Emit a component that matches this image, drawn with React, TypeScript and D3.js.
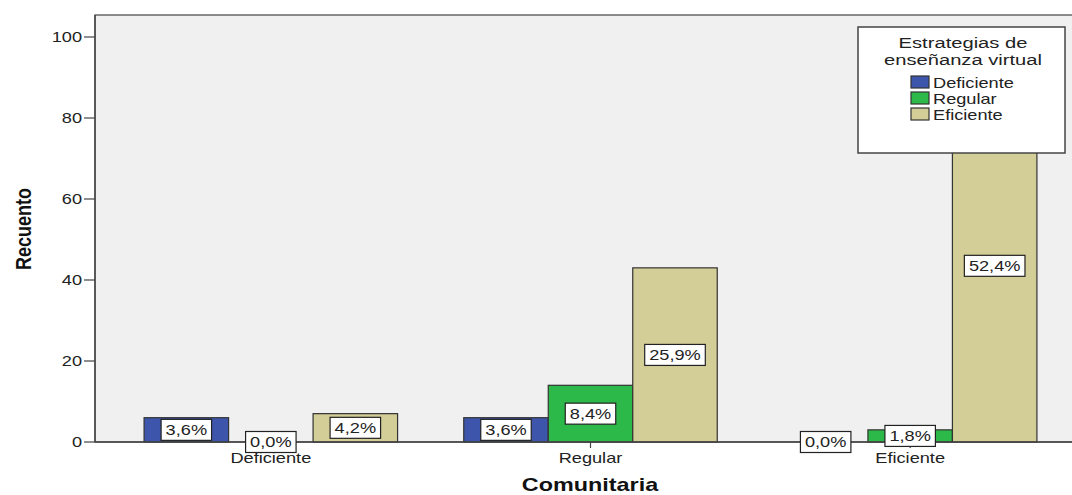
import React from "react";
import * as d3 from "d3";

const categories = ["Deficiente", "Regular", "Eficiente"];
const seriesNames = ["Deficiente", "Regular", "Eficiente"];
const deficienteCounts = [6, 6, 0];
const regularCounts = [0, 14, 3];
const eficienteCounts = [7, 43, 87];
const yTicks = [0, 20, 40, 60, 80, 100];
const colors = ["#3d56ac", "#2db84a", "#d3cd97"];

const W = 1072;
const H = 495;
const FONT = "'Liberation Sans', Arial, sans-serif";
const SX = 1.3;

const charW: Record<string, number> = { ",": 0.278, "%": 0.889, ".": 0.278 };
function textWidth(s: string, size: number) {
  let w = 0;
  for (const c of s) w += charW[c] ?? 0.556;
  return w * size * SX;
}

function SText({ x, y, size, children, anchor = "middle", weight = "normal", fill = "#222", sx = SX }: any) {
  return (
    <text
      transform={`translate(${x},${y}) scale(${sx},1)`}
      textAnchor={anchor}
      fontFamily={FONT}
      fontSize={size}
      fontWeight={weight}
      fill={fill}
    >
      {children}
    </text>
  );
}

export default function App() {
  const seriesData = [deficienteCounts, regularCounts, eficienteCounts];
  const total = d3.sum(seriesData.flat());

  const x0 = d3.scaleBand<string>().domain(categories).range([111, 1070]).padding(0);
  const groupW = 253.5;
  const x1 = d3.scaleBand<string>().domain(seriesNames).range([0, groupW]).padding(0);
  const y = d3.scaleLinear().domain([0, 100]).range([442, 37]);

  const plotLeft = 95;
  const plotTop = 15;
  const plotBottom = y(0);

  const bars: any[] = [];
  categories.forEach((cat, ci) => {
    seriesNames.forEach((s, si) => {
      const v = seriesData[si][ci];
      const gx = (x0(cat) as number) + x0.bandwidth() / 2 - groupW / 2;
      const bx = gx + (x1(s) as number);
      bars.push({ cat, s, si, v, x: bx, w: x1.bandwidth(), pct: ((v / total) * 100).toFixed(1).replace(".", ",") + "%" });
    });
  });

  const legendX = 858, legendY = 27, legendW = 207, legendH = 126;

  return (
    <svg width={W} height={H} style={{ position: "absolute", left: 0, top: 0, background: "#fff" }}>
      <rect x={plotLeft} y={plotTop} width={W - plotLeft + 5} height={plotBottom - plotTop} fill="#f0f0f0" stroke="#444" strokeWidth={1.2} />
      {bars.map((b, i) =>
        b.v > 0 ? (
          <rect key={"b" + i} x={b.x} y={y(b.v)} width={b.w} height={plotBottom - y(b.v)} fill={colors[b.si]} stroke="#333" strokeWidth={1.2} />
        ) : null
      )}
      {/* axes */}
      <line x1={plotLeft} x2={W} y1={plotBottom} y2={plotBottom} stroke="#444" strokeWidth={1.4} />
      <line x1={plotLeft} x2={plotLeft} y1={plotTop} y2={plotBottom} stroke="#444" strokeWidth={1.4} />
      {yTicks.map((t) => (
        <g key={"t" + t}>
          <line x1={84} x2={plotLeft} y1={y(t)} y2={y(t)} stroke="#444" strokeWidth={1.2} />
          <SText x={82} y={y(t) + 5} size={14} anchor="end">{t}</SText>
        </g>
      ))}
      {categories.map((c) => {
        const cx = (x0(c) as number) + x0.bandwidth() / 2;
        return (
          <g key={"c" + c}>
            <line x1={cx} x2={cx} y1={plotBottom} y2={plotBottom + 6} stroke="#444" strokeWidth={1.2} />
            <SText x={cx} y={463} size={14}>{c}</SText>
          </g>
        );
      })}
      {/* value labels */}
      {bars.map((b, i) => {
        const cy = (y(b.v) + plotBottom) / 2;
        const cx = b.x + b.w / 2;
        const tw = textWidth(b.pct, 14) + 9;
        return (
          <g key={"l" + i}>
            <rect x={cx - tw / 2} y={cy - 10.5} width={tw} height={21} fill="#fff" stroke="#222" strokeWidth={1.2} />
            <SText x={cx} y={cy + 5} size={14}>{b.pct}</SText>
          </g>
        );
      })}
      {/* axis titles */}
      <text
        transform={`translate(31,229) rotate(-90) scale(1,1.25)`}
        textAnchor="middle"
        fontFamily={FONT}
        fontSize={18}
        fontWeight="bold"
        fill="#111"
      >
        Recuento
      </text>
      <SText x={590} y={491} size={18} weight="bold" fill="#111">Comunitaria</SText>
      {/* legend */}
      <rect x={legendX} y={legendY} width={legendW} height={legendH} fill="#fff" stroke="#444" strokeWidth={1.5} />
      <SText x={963} y={48} size={15.5} fill="#222">Estrategias de</SText>
      <SText x={963} y={65} size={15.5} fill="#222">enseñanza virtual</SText>
      {seriesNames.map((s, i) => (
        <g key={"lg" + s}>
          <rect x={911} y={76 + i * 16} width={18} height={12} fill={colors[i]} stroke="#333" strokeWidth={1.2} />
          <SText x={933} y={88 + i * 16} size={14} anchor="start">{s}</SText>
        </g>
      ))}
    </svg>
  );
}
